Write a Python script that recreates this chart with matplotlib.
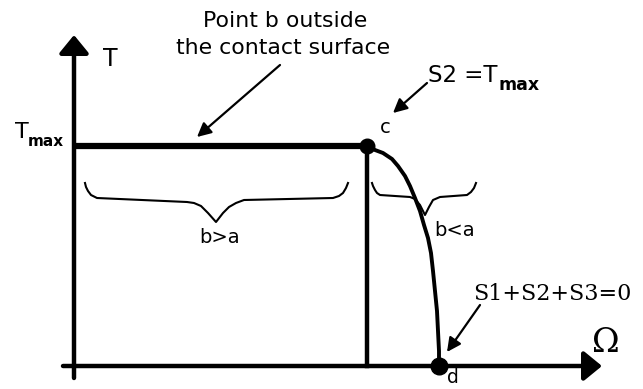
import matplotlib
matplotlib.use("Agg")
import matplotlib.pyplot as plt

# ---- data (diagram units: Omega to the right, T upwards) ----
T_max = 220
omega_c = 293
omega_d = 365
omega_curve = [293, 301, 309, 318, 324, 331, 336, 341, 346, 350, 354, 357,
               359, 361, 363, 364, 365, 365]
T_curve = [220, 216, 213, 207, 200, 190, 180, 168, 155, 141, 128, 113,
           95, 75, 55, 35, 15, 0]

brace_left_x = [11, 12, 14, 17, 23, 113, 120, 127, 134, 142, 149, 155, 162, 170,
                259, 265, 269, 272, 274]
brace_left_y = [183, 179, 175, 171, 168, 164, 163, 160, 153, 144, 153, 159, 163, 166,
                168, 170, 173, 178, 183]
brace_right_x = [298, 299, 301, 303, 306, 336, 341, 346, 351, 355, 359, 366,
                 393, 397, 400, 402]
brace_right_y = [183, 180, 176, 173, 171, 169, 167, 161, 151, 159, 166, 169,
                 171, 174, 178, 183]

title_lines = ["Point b outside", "the contact surface"]
label_T = "T"
label_Omega = "Ω"
label_left = "b>a"
label_right = "b<a"
label_S2 = "S2 =T"
label_S_sum = "S1+S2+S3=0"
sub_max = "max"

fig = plt.figure(figsize=(6.43, 3.89), dpi=100)
ax = fig.add_axes([0, 0, 1, 1])
ax.set_xlim(-74, 643 - 74)
ax.set_ylim(-23, 366)
ax.axis("off")

# axes with arrows
axis_head = "-|>,head_length=0.55,head_width=0.45"
ax.annotate("", xy=(0, 331), xytext=(0, -12),
            arrowprops=dict(arrowstyle=axis_head, lw=3.2, color="black",
                            mutation_scale=20, shrinkA=0, shrinkB=0))
ax.annotate("", xy=(528, 0), xytext=(-11, 0),
            arrowprops=dict(arrowstyle=axis_head, lw=3.2, color="black",
                            mutation_scale=20, shrinkA=0, shrinkB=0))

# T_max plateau, vertical line at c, and the falling curve
ax.plot([0, omega_c], [T_max, T_max], color="black", lw=4.5, solid_capstyle="butt")
ax.plot([omega_c, omega_c], [T_max, 0], color="black", lw=3.2)
ax.plot(omega_curve, T_curve, color="black", lw=2.8, solid_joinstyle="round")
ax.plot([omega_c], [T_max], "o", color="black", ms=10.5)
ax.plot([omega_d], [0], "o", color="black", ms=12)

# braces
ax.plot(brace_left_x, brace_left_y, color="black", lw=1.5, solid_joinstyle="round")
ax.plot(brace_right_x, brace_right_y, color="black", lw=1.5, solid_joinstyle="round")

# small arrows
small_head = "-|>,head_length=0.7,head_width=0.35"
for start, end in [((206, 301), (123, 229)),
                   ((353, 283), (319, 253)),
                   ((406, 61), (373, 14))]:
    ax.annotate("", xy=end, xytext=start,
                arrowprops=dict(arrowstyle=small_head, lw=1.6, color="black",
                                mutation_scale=12, shrinkA=0, shrinkB=0))

# texts
ax.text(211, 339, title_lines[0], ha="center", va="baseline", fontsize=15.8,
        family="DejaVu Sans")
ax.text(209, 312, title_lines[1], ha="center", va="baseline", fontsize=15.8,
        family="DejaVu Sans")
ax.text(29, 300, label_T, ha="left", va="baseline", fontsize=17, family="DejaVu Sans")
ax.text(-59, 228, "T", ha="left", va="baseline", fontsize=16, family="DejaVu Sans")
ax.text(-46, 220, sub_max, ha="left", va="baseline", fontsize=11,
        family="DejaVu Sans", fontweight="bold")
ax.text(354, 284, label_S2, ha="left", va="baseline", fontsize=16.5,
        family="DejaVu Sans")
ax.text(424, 276, sub_max, ha="left", va="baseline", fontsize=12.5,
        family="DejaVu Sans", fontweight="bold")
ax.text(306, 233, "c", ha="left", va="baseline", fontsize=14, family="DejaVu Sans")
ax.text(146, 123, label_left, ha="center", va="baseline", fontsize=14,
        family="DejaVu Sans")
ax.text(381, 130, label_right, ha="center", va="baseline", fontsize=14,
        family="DejaVu Sans")
ax.text(399, 66, label_S_sum, ha="left", va="baseline", fontsize=16,
        family="DejaVu Serif")
ax.text(532, 14, label_Omega, ha="center", va="baseline", fontsize=24,
        family="DejaVu Serif")
ax.text(373, -17, "d", ha="left", va="baseline", fontsize=13.5, family="DejaVu Sans")

fig.savefig("out.png", dpi=100)
